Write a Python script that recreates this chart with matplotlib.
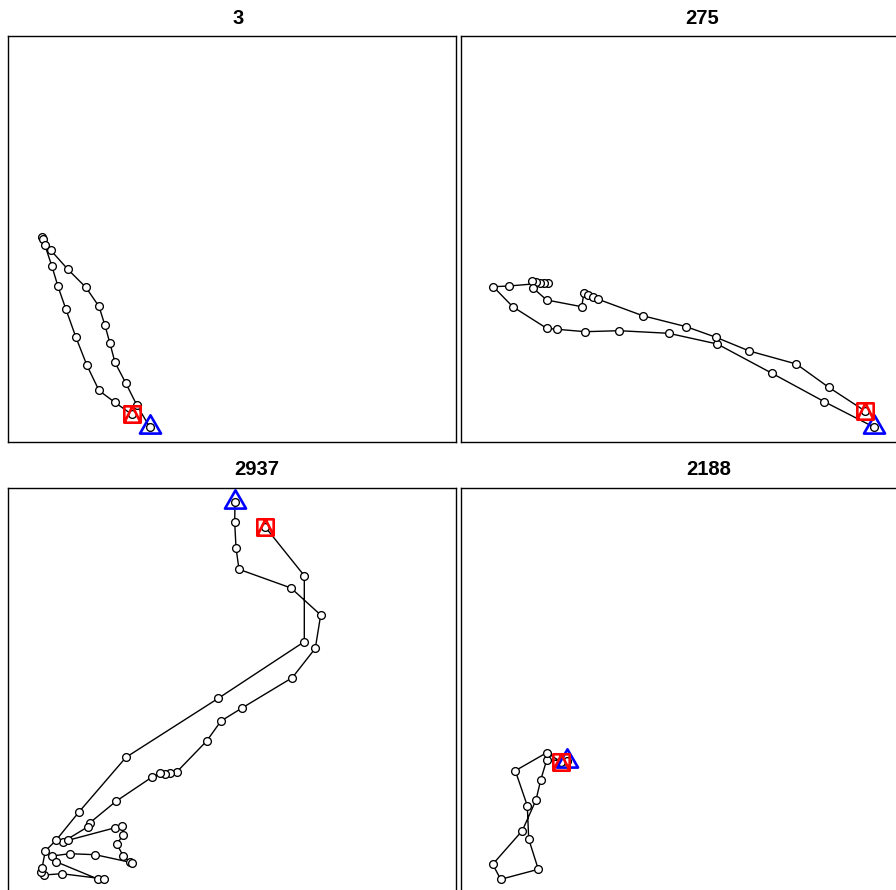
import matplotlib
matplotlib.use("Agg")
import matplotlib.pyplot as plt
from matplotlib.path import Path

W, H = 896, 890
fig = plt.figure(figsize=(W / 100, H / 100), dpi=100)

# ---------------- data (track relocations, arbitrary map units) ----------------
ids = ["3", "275", "2937", "2188"]

x_3 = [142, 129, 118, 107, 102, 97, 91, 78, 60, 43, 34, 35, 37, 44, 50, 58, 68, 79, 91, 107, 124]
y_3 = [15, 37, 59, 80, 99, 117, 136, 155, 173, 192, 205, 203, 197, 176, 156, 133, 105, 77, 52, 40, 28]

x_275 = [413.3, 363.3, 311, 256.3, 207.7, 158, 124.3, 96.3, 85.7, 51.7, 32.3, 48, 87, 83, 79, 75,
         70.7, 72.3, 85.7, 120.7, 123, 127.3, 132.3, 137.3, 181.7, 225.3, 255, 288.3, 335.3, 367.7, 404]
y_275 = [15.2, 40.8, 69.2, 98.5, 109.2, 111.8, 110.8, 113.2, 114.2, 135.8, 155.8, 156.5, 159.8, 159.8,
         159.8, 160.5, 161.8, 154.2, 142.5, 135.8, 149.8, 147.5, 145.2, 143.2, 126.8, 115.8, 105.2,
         91.5, 78.5, 55.2, 31.5]

x_2937 = [227, 226.7, 228, 231, 283, 312.7, 307.3, 284.3, 234, 213, 198.7, 169, 162, 157, 152, 143.7,
          108, 82, 80, 55.3, 60, 107.3, 114, 115.3, 108.7, 115.3, 122, 124, 87.3, 61.7, 44, 48,
          89.7, 96.3, 53.7, 36, 32.7, 34, 37.3, 48, 70.7, 118, 210.3, 296.3, 296.3, 257]
y_2937 = [392.2, 372.2, 346.8, 325.2, 306.5, 279.5, 246.2, 216.8, 186.5, 173.5, 153.5, 122.8, 121.5,
          120.5, 121.2, 117.2, 93.2, 71.8, 67.8, 52.8, 54.2, 66.8, 68.8, 59.5, 50.5, 38.5, 32.5,
          31.8, 39.8, 40.8, 38.5, 32.8, 15.5, 15.5, 20.8, 19.5, 22.8, 26.2, 43.5, 54.2, 82.2,
          137.2, 196.2, 252.8, 318.8, 367.8]

x_2188 = [105.7, 85.7, 79.7, 75, 61.3, 31.7, 39.7, 77.3, 67.7, 66.3, 54.3, 85.7, 99.7]
y_2188 = [133.8, 134.5, 114.5, 94.5, 63.8, 30.2, 15.2, 25.2, 55.5, 88.8, 123.8, 141.8, 132.8]

tracks = [(x_3, y_3), (x_275, y_275), (x_2937, y_2937), (x_2188, y_2188)]

# ---------------- layout (pixels: left, top, width, height) ----------------
panels = [(8, 36, 448, 406.5), (461, 36, 448, 406.5),
          (8, 488, 448, 406.5), (461, 488, 448, 406.5)]
title_pos = [(238, 19), (702, 19), (257, 470), (709, 470)]

# R-like markers: pch=2 (triangle) and pch=14 (square with triangle)
tri_path = Path([(0, 1.555), (1.347, -0.778), (-1.347, -0.778), (0, 1.555)],
                [Path.MOVETO, Path.LINETO, Path.LINETO, Path.CLOSEPOLY])
sq_path = Path([(-1, -1), (1, -1), (1, 1), (-1, 1), (-1, -1), (-1, -1), (0, 1), (1, -1)],
               [Path.MOVETO, Path.LINETO, Path.LINETO, Path.LINETO, Path.CLOSEPOLY,
                Path.MOVETO, Path.LINETO, Path.LINETO])

for (l, t, w, h), (xs, ys), name, (tx, ty) in zip(panels, tracks, ids, title_pos):
    ax = fig.add_axes([l / W, 1 - (t + h) / H, w / W, h / H])
    ax.plot(xs, ys, color="black", lw=1.0, zorder=2)
    ax.plot(xs, ys, linestyle="none", marker="o", ms=5.6, mfc="white", mec="black",
            mew=0.95, zorder=3)
    ax.plot(xs[0], ys[0], linestyle="none", marker=tri_path, ms=17.5, mfc="none",
            mec="blue", mew=1.9, zorder=4)
    ax.plot(xs[-1], ys[-1], linestyle="none", marker=sq_path, ms=11.8, mfc="none",
            mec="red", mew=1.9, zorder=5)
    ax.set_xlim(0, 448)
    ax.set_ylim(0, 406.5)
    ax.set_xticks([])
    ax.set_yticks([])
    for s in ax.spines.values():
        s.set_linewidth(1.0)
        s.set_color("black")
    fig.text(tx / W, 1 - ty / H, name, ha="center", va="center", fontsize=14.5,
             fontweight="bold", family=["Liberation Sans", "DejaVu Sans"])

fig.savefig("out.png", dpi=100)
